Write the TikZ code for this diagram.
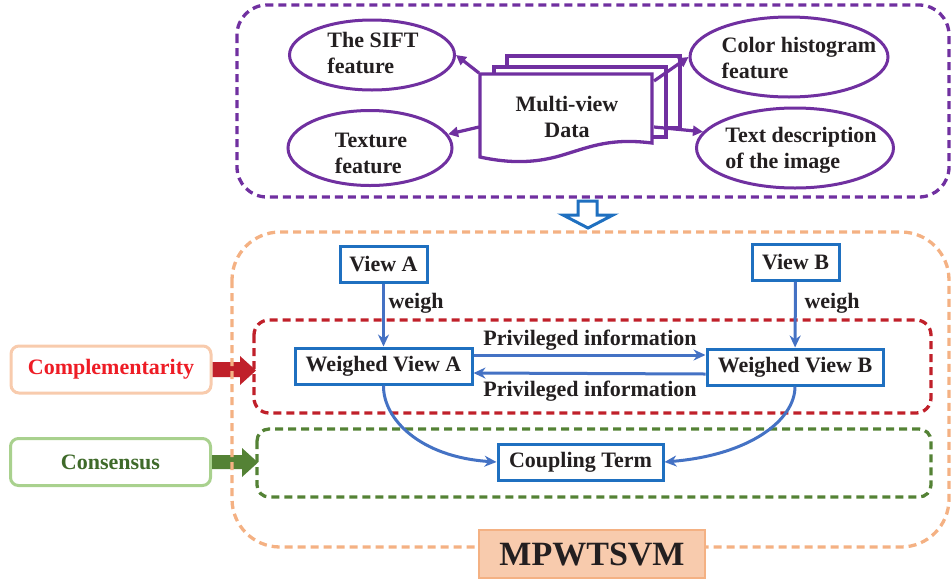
\documentclass[tikz,border=0pt]{standalone}
\usepackage{fontspec}
\setmainfont{Liberation Serif}
\usetikzlibrary{arrows.meta,shapes.geometric,calc}
\definecolor{purp}{HTML}{7030A0}
\definecolor{oran}{HTML}{F4B183}
\definecolor{lora}{HTML}{F8CBAD}
\definecolor{dred}{HTML}{C0202A}
\definecolor{tred}{HTML}{EE1C25}
\definecolor{dgrn}{HTML}{548235}
\definecolor{lgrn}{HTML}{A9D18E}
\definecolor{tgrn}{HTML}{3F6A2A}
\definecolor{blu}{HTML}{4472C4}
\definecolor{bbox}{HTML}{1F70C0}
\definecolor{txt}{HTML}{231F20}
\begin{document}
\begin{tikzpicture}[x=1pt,y=-1pt,
  font=\fontsize{22}{26}\selectfont\bfseries, text=txt,
  dashbox/.style={line width=3.3pt, dash pattern=on 8pt off 5pt},
  feat/.style={ellipse, draw=purp, line width=3pt, inner sep=0pt},
  feattext/.style={align=left, inner sep=0pt},
  page/.style={draw=purp, fill=white, line width=3.3pt, line join=miter},
  parr/.style={draw=purp, line width=3.2pt, -{Triangle[length=10pt,width=10pt]}},
  vbox/.style={draw=bbox, line width=3pt, fill=white, inner sep=0pt, minimum height=36pt},
  barr/.style={draw=blu, line width=3pt, -{Stealth[length=12pt,width=11pt]}},
  sidebox/.style={rounded corners=8pt, line width=3pt, fill=white, minimum width=200pt, minimum height=47pt, inner sep=0pt}
]
\useasboundingbox (0,0) rectangle (952,579);

% ---------- top purple group ----------
\draw[dashbox, draw=purp, rounded corners=30pt] (237,5) rectangle (949,197);

\node[feat, minimum width=165pt, minimum height=70pt] (sift) at (372,55) {};
\node[feattext] (siftT) at (373,53) {The SIFT\\feature};
\node[feat, minimum width=164pt, minimum height=75pt] (tex) at (370,148) {};
\node[feattext] (texT) at (371,153) {Texture\\feature};
\node[feat, minimum width=198pt, minimum height=80pt] (col) at (789,57) {};
\node[feattext] (colT) at (799,58) {Color histogram\\feature};
\node[feat, minimum width=197pt, minimum height=80pt] (des) at (795,148) {};
\node[feattext] (desT) at (801,150) {Text description\\of the image};

% stacked pages
\draw[page] (507,56) rectangle (680,128);
\draw[page] (494,67) rectangle (666,137);
\draw[page] (480,74) -- (652,74) -- (652,143)
  .. controls (612,138) and (592,146) .. (566,154)
  .. controls (538,163) and (512,164) .. (480,157) -- cycle;
\node[align=center, inner sep=0pt] (mv) at (567,117) {Multi-view\\Data};
\coordinate (dTL) at (479,73);
\coordinate (dBL) at (479,127);
\coordinate (dTR) at (654,81);
\coordinate (dBR) at (654,127);
\draw[parr] (dTL) -- (sift.east);
\draw[parr] (dBL) -- (tex.10);
\draw[parr] (dTR) -- (col.west);
\draw[parr] (dBR) -- (des.170);

% hollow arrow
\draw[draw=bbox, fill=white, line width=3pt, line join=miter]
  (578,201) -- (597,201) -- (597,215) -- (613,215) -- (588,228) -- (563,215) -- (578,215) -- cycle;

% ---------- side labels and block arrows ----------
\node[sidebox, draw=lora, text=tred] (comp) at (111,369.5) {Complementarity};
\node[sidebox, draw=lgrn, text=tgrn] (cons) at (110.5,462) {Consensus};
\fill[dred] (comp.east |- 0,362) -- (240,362) -- (240,356) -- (256,370.5) -- (240,385) -- (240,377) -- (comp.east |- 0,377) -- cycle;
\fill[dgrn] (cons.east |- 0,455) -- (242,455) -- (242,448) -- (258,462.5) -- (242,477) -- (242,469) -- (cons.east |- 0,469) -- cycle;

% ---------- orange group ----------
\draw[dashbox, draw=oran, rounded corners=48pt] (232,232) rectangle (949,547);
\draw[dashbox, draw=dred, rounded corners=15pt] (254,320) rectangle (931,413);
\draw[dashbox, draw=dgrn, rounded corners=12pt] (257,429) rectangle (931,497);

\node[vbox, minimum width=87pt] (va) at (383.5,264) {View A};
\node[vbox, minimum width=87pt] (vb) at (795.5,262) {View B};
\node[vbox, minimum width=177pt] (wva) at (383.5,366) {Weighed View A};
\node[vbox, minimum width=176pt] (wvb) at (795,367) {Weighed View B};
\node[vbox, minimum width=165pt] (cpl) at (580.5,462) {Coupling Term};

\draw[barr] (va) -- (wva);
\draw[barr] (vb) -- (wvb);
\node[inner sep=0pt] (wA) at (416,303) {weigh};
\node[inner sep=0pt] (wB) at (832,303) {weigh};

\draw[barr] (wva.east |- 0,355) -- (wvb.west |- 0,355);
\draw[barr] (wvb.west |- 0,374) -- (wva.east |- 0,373);
\node[inner sep=0pt] (p1) at (590,340) {Privileged information};
\node[inner sep=0pt] (p2) at (590,391) {Privileged information};

\draw[barr] (wva.south) .. controls (383,419) and (420,457) .. (cpl.west);
\draw[barr] (wvb.south) .. controls (795,420) and (750,455) .. (cpl.east);

\node[fill=lora, draw=oran, line width=1.5pt, minimum width=226pt, minimum height=48pt, inner sep=0pt,
      font=\fontsize{34}{38}\selectfont\bfseries] (mp) at (592,554) {MPWTSVM};
\end{tikzpicture}
\end{document}
